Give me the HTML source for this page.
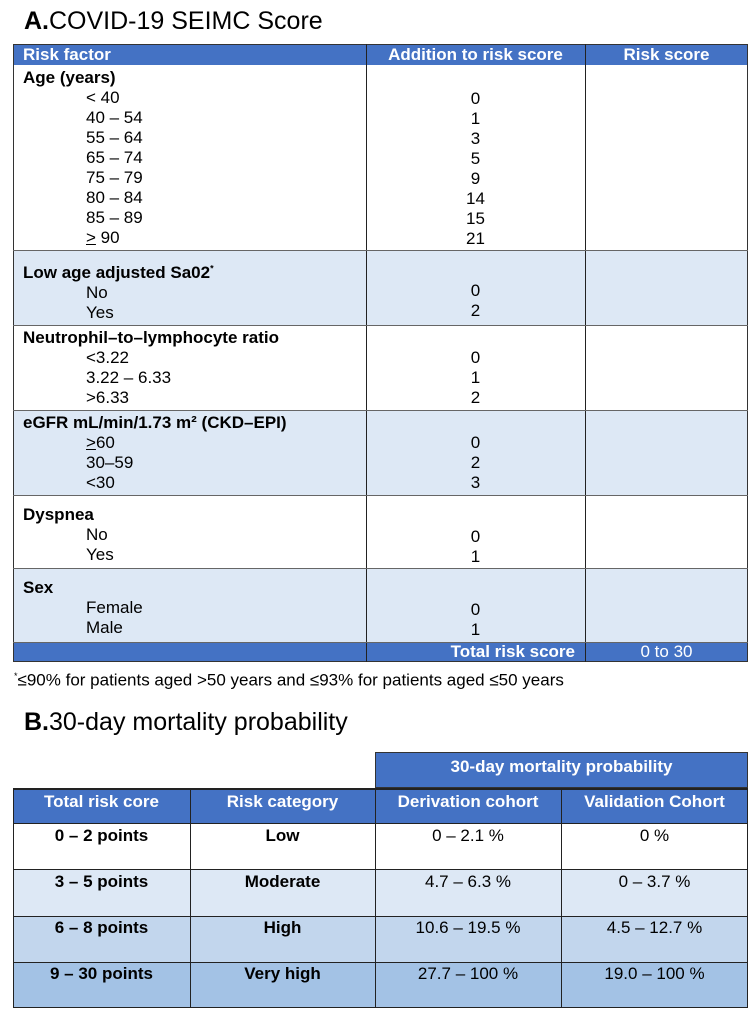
<!DOCTYPE html>
<html><head><meta charset="utf-8"><style>
*{margin:0;padding:0;box-sizing:border-box}
body{width:756px;height:1023px;background:#fff;font-family:"Liberation Sans",Arial,sans-serif;color:#000;position:relative;overflow:hidden}
.a{position:absolute}
.t{font-size:17px;line-height:20px;white-space:nowrap}
.b{font-weight:bold}
.hd{background:#4472c4;color:#fff;font-weight:bold}
.c{text-align:center}
.ln{background:#222}
</style></head><body>
<div class="a" style="left:24px;top:6px;font-size:25px;line-height:30px"><b>A.</b>COVID-19 SEIMC Score</div>

<!-- table A backgrounds -->
<div class="a hd" style="left:13px;top:44px;width:735px;height:21px"></div>
<div class="a" style="left:13px;top:250px;width:735px;height:75px;background:#dde8f5"></div>
<div class="a" style="left:13px;top:410px;width:735px;height:85px;background:#dde8f5"></div>
<div class="a" style="left:13px;top:568px;width:735px;height:74px;background:#dde8f5"></div>
<div class="a hd" style="left:13px;top:642px;width:735px;height:20px"></div>
<!-- borders -->
<div class="a" style="left:13px;top:44px;width:735px;height:618px;border:1px solid #333"></div>
<div class="a ln" style="left:366px;top:44px;width:1px;height:618px"></div>
<div class="a ln" style="left:585px;top:44px;width:1px;height:618px"></div>
<div class="a" style="left:13px;top:250px;width:735px;height:1px;background:#666"></div>
<div class="a" style="left:13px;top:325px;width:735px;height:1px;background:#666"></div>
<div class="a" style="left:13px;top:410px;width:735px;height:1px;background:#666"></div>
<div class="a" style="left:13px;top:495px;width:735px;height:1px;background:#666"></div>
<div class="a" style="left:13px;top:568px;width:735px;height:1px;background:#666"></div>
<div class="a" style="left:13px;top:642px;width:735px;height:1px;background:#666"></div>

<div class="a t b" style="left:23px;top:45px;color:#fff">Risk factor</div>
<div class="a t b c" style="left:366px;top:45px;width:219px;color:#fff">Addition to risk score</div>
<div class="a t b c" style="left:585px;top:45px;width:163px;color:#fff">Risk score</div>

<div class="a t" style="left:23px;top:68px">
<b>Age (years)</b><br>
<span style="padding-left:63px">&lt; 40</span><br>
<span style="padding-left:63px">40 – 54</span><br>
<span style="padding-left:63px">55 – 64</span><br>
<span style="padding-left:63px">65 – 74</span><br>
<span style="padding-left:63px">75 – 79</span><br>
<span style="padding-left:63px">80 – 84</span><br>
<span style="padding-left:63px">85 – 89</span><br>
<span style="padding-left:63px"><u>&gt;</u> 90</span></div>
<div class="a t c" style="left:366px;top:89px;width:219px">0<br>1<br>3<br>5<br>9<br>14<br>15<br>21</div>

<div class="a t" style="left:23px;top:258px"><b>Low age adjusted Sa02<sup style="font-size:9px">*</sup></b><br><span style="padding-left:63px">No</span><br><span style="padding-left:63px">Yes</span></div>
<div class="a t c" style="left:366px;top:281px;width:219px">0<br>2</div>

<div class="a t" style="left:23px;top:328px"><b>Neutrophil–to–lymphocyte ratio</b><br><span style="padding-left:63px">&lt;3.22</span><br><span style="padding-left:63px">3.22 – 6.33</span><br><span style="padding-left:63px">&gt;6.33</span></div>
<div class="a t c" style="left:366px;top:348px;width:219px">0<br>1<br>2</div>

<div class="a t" style="left:23px;top:413px"><b>eGFR mL/min/1.73 m² (CKD–EPI)</b><br><span style="padding-left:63px"><u>&gt;</u>60</span><br><span style="padding-left:63px">30–59</span><br><span style="padding-left:63px">&lt;30</span></div>
<div class="a t c" style="left:366px;top:433px;width:219px">0<br>2<br>3</div>

<div class="a t" style="left:23px;top:505px"><b>Dyspnea</b><br><span style="padding-left:63px">No</span><br><span style="padding-left:63px">Yes</span></div>
<div class="a t c" style="left:366px;top:527px;width:219px">0<br>1</div>

<div class="a t" style="left:23px;top:578px"><b>Sex</b><br><span style="padding-left:63px">Female</span><br><span style="padding-left:63px">Male</span></div>
<div class="a t c" style="left:366px;top:600px;width:219px">0<br>1</div>

<div class="a t b" style="left:366px;top:642px;width:219px;text-align:right;padding-right:10px;color:#fff">Total risk score</div>
<div class="a t c" style="left:585px;top:642px;width:163px;color:#fff">0 to 30</div>

<div class="a t" style="left:14px;top:666px"><sup style="font-size:9px">*</sup>≤90% for patients aged &gt;50 years and ≤93% for patients aged ≤50 years</div>

<div class="a" style="left:24px;top:707px;font-size:25px;line-height:30px"><b>B.</b>30-day mortality probability</div>

<!-- table B -->
<div class="a hd" style="left:375px;top:752px;width:373px;height:36px;border:1px solid #333"></div>
<div class="a t b c" style="left:375px;top:757px;width:373px;color:#fff">30-day mortality probability</div>
<div class="a hd" style="left:13px;top:788px;width:735px;height:35px"></div>
<div class="a" style="left:13px;top:869px;width:735px;height:47px;background:#dde8f5"></div>
<div class="a" style="left:13px;top:916px;width:735px;height:46px;background:#c2d6ed"></div>
<div class="a" style="left:13px;top:962px;width:735px;height:46px;background:#a3c2e5"></div>
<div class="a" style="left:13px;top:788px;width:735px;height:220px;border:1px solid #222;border-top:2px solid #222"></div>
<div class="a ln" style="left:190px;top:788px;width:1px;height:220px"></div>
<div class="a ln" style="left:375px;top:788px;width:1px;height:220px"></div>
<div class="a ln" style="left:561px;top:788px;width:1px;height:220px"></div>
<div class="a ln" style="left:13px;top:823px;width:735px;height:1px"></div>
<div class="a ln" style="left:13px;top:869px;width:735px;height:1px"></div>
<div class="a ln" style="left:13px;top:916px;width:735px;height:1px"></div>
<div class="a ln" style="left:13px;top:962px;width:735px;height:1px"></div>

<div class="a t b c" style="left:13px;top:792px;width:177px;color:#fff">Total risk core</div>
<div class="a t b c" style="left:190px;top:792px;width:185px;color:#fff">Risk category</div>
<div class="a t b c" style="left:375px;top:792px;width:186px;color:#fff">Derivation cohort</div>
<div class="a t b c" style="left:561px;top:792px;width:187px;color:#fff">Validation Cohort</div>

<div class="a t b c" style="left:13px;top:826px;width:177px">0 – 2 points</div>
<div class="a t b c" style="left:190px;top:826px;width:185px">Low</div>
<div class="a t c" style="left:375px;top:826px;width:186px">0 – 2.1 %</div>
<div class="a t c" style="left:561px;top:826px;width:187px">0 %</div>

<div class="a t b c" style="left:13px;top:872px;width:177px">3 – 5 points</div>
<div class="a t b c" style="left:190px;top:872px;width:185px">Moderate</div>
<div class="a t c" style="left:375px;top:872px;width:186px">4.7 – 6.3 %</div>
<div class="a t c" style="left:561px;top:872px;width:187px">0 – 3.7 %</div>

<div class="a t b c" style="left:13px;top:918px;width:177px">6 – 8 points</div>
<div class="a t b c" style="left:190px;top:918px;width:185px">High</div>
<div class="a t c" style="left:375px;top:918px;width:186px">10.6 – 19.5 %</div>
<div class="a t c" style="left:561px;top:918px;width:187px">4.5 – 12.7 %</div>

<div class="a t b c" style="left:13px;top:964px;width:177px">9 – 30 points</div>
<div class="a t b c" style="left:190px;top:964px;width:185px">Very high</div>
<div class="a t c" style="left:375px;top:964px;width:186px">27.7 – 100 %</div>
<div class="a t c" style="left:561px;top:964px;width:187px">19.0 – 100 %</div>
</body></html>
